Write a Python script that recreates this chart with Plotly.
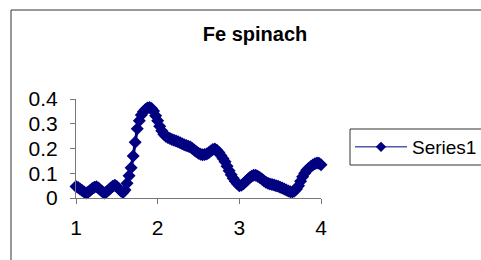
import plotly.graph_objects as go

x_vals = [1.000, 1.025, 1.050, 1.075, 1.100, 1.125, 1.150, 1.175, 1.200, 1.225,
          1.250, 1.275, 1.300, 1.325, 1.350, 1.375, 1.400, 1.425, 1.450, 1.475,
          1.500, 1.525, 1.550, 1.575, 1.600, 1.625, 1.650, 1.675, 1.700, 1.725,
          1.750, 1.775, 1.800, 1.825, 1.850, 1.875, 1.900, 1.925, 1.950, 1.975,
          2.000, 2.025, 2.050, 2.075, 2.100, 2.125, 2.150, 2.175, 2.200, 2.225,
          2.250, 2.275, 2.300, 2.325, 2.350, 2.375, 2.400, 2.425, 2.450, 2.475,
          2.500, 2.525, 2.550, 2.575, 2.600, 2.625, 2.650, 2.675, 2.700, 2.725,
          2.750, 2.775, 2.800, 2.825, 2.850, 2.875, 2.900, 2.925, 2.950, 2.975,
          3.000, 3.025, 3.050, 3.075, 3.100, 3.125, 3.150, 3.175, 3.200, 3.225,
          3.250, 3.275, 3.300, 3.325, 3.350, 3.375, 3.400, 3.425, 3.450, 3.475,
          3.500, 3.525, 3.550, 3.575, 3.600, 3.625, 3.650, 3.675, 3.700, 3.725,
          3.750, 3.775, 3.800, 3.825, 3.850, 3.875, 3.900, 3.925, 3.950, 3.975,
          4.000]

series1 = [0.046, 0.042, 0.036, 0.030, 0.024, 0.020, 0.024, 0.031, 0.038, 0.043,
           0.045, 0.040, 0.032, 0.025, 0.020, 0.025, 0.032, 0.040, 0.047, 0.052,
           0.046, 0.037, 0.028, 0.022, 0.032, 0.060, 0.090, 0.122, 0.170, 0.225,
           0.280, 0.312, 0.335, 0.348, 0.358, 0.364, 0.366, 0.362, 0.352, 0.332,
           0.312, 0.290, 0.272, 0.258, 0.250, 0.244, 0.240, 0.236, 0.233, 0.230,
           0.227, 0.223, 0.219, 0.215, 0.212, 0.209, 0.206, 0.200, 0.193, 0.187,
           0.181, 0.177, 0.175, 0.176, 0.178, 0.183, 0.190, 0.196, 0.198, 0.193,
           0.184, 0.172, 0.160, 0.146, 0.128, 0.110, 0.094, 0.080, 0.068, 0.058,
           0.050, 0.052, 0.058, 0.066, 0.074, 0.082, 0.088, 0.092, 0.092, 0.088,
           0.083, 0.077, 0.070, 0.064, 0.060, 0.057, 0.055, 0.053, 0.050, 0.047,
           0.043, 0.040, 0.036, 0.032, 0.028, 0.025, 0.024, 0.028, 0.036, 0.050,
           0.068, 0.086, 0.100, 0.112, 0.120, 0.127, 0.133, 0.138, 0.141, 0.140,
           0.134]

x_ticks = [1, 2, 3, 4]
y_ticks = [0, 0.1, 0.2, 0.3, 0.4]
y_tick_text = ["0", "0.1", "0.2", "0.3", "0.4"]

W, H = 481, 260
L, R, T, B = 76, 160, 99, 62
pw, ph = W - L - R, H - T - B

def px_x(p):
    return (p - L) / pw

def px_y(p):
    return (H - B - p) / ph

NAVY = "#000080"
FONT = "Arial, Liberation Sans, sans-serif"

fig = go.Figure()
fig.add_trace(go.Scatter(
    x=x_vals, y=series1, mode="lines+markers", name="Series1", showlegend=False,
    line=dict(color=NAVY, width=3),
    marker=dict(symbol="diamond", size=10, color=NAVY, line=dict(width=0)),
))
# legend entry (thin line + diamond, like the reference's key)
fig.add_trace(go.Scatter(
    x=[None], y=[None], mode="lines+markers", name="Series1", showlegend=True,
    line=dict(color=NAVY, width=1),
    marker=dict(symbol="diamond", size=8, color=NAVY, line=dict(width=0)),
))

fig.update_layout(
    width=W, height=H,
    margin=dict(l=L, r=R, t=T, b=B, pad=0, autoexpand=False),
    paper_bgcolor="white", plot_bgcolor="white",
    font=dict(family=FONT, size=20, color="black"),
    title=dict(text="<b>Fe spinach</b>", x=px_x(255), xref="paper", xanchor="center",
               y=1 - 34 / H, yref="container", yanchor="middle",
               font=dict(family=FONT, size=20, color="black")),
    showlegend=True,
    legend=dict(x=px_x(350), y=px_y(147), xanchor="left", yanchor="middle",
                xref="paper", yref="paper",
                borderwidth=0, bgcolor="rgba(0,0,0,0)",
                font=dict(family=FONT, size=19, color="black"),
                itemwidth=52),
    xaxis=dict(range=[1, 4], tickvals=x_ticks, ticktext=[str(v) for v in x_ticks],
               showgrid=False, zeroline=False, showline=True, linecolor="#777777",
               linewidth=1, ticks="outside", ticklen=5, tickcolor="#777777",
               ticklabelstandoff=6, fixedrange=True,
               tickfont=dict(family=FONT, size=21, color="black")),
    yaxis=dict(range=[0, 0.4], tickvals=y_ticks, ticktext=y_tick_text,
               showgrid=False, zeroline=False, showline=True, linecolor="#777777",
               linewidth=1, ticks="outside", ticklen=5, tickcolor="#777777",
               ticklabelstandoff=8, fixedrange=True,
               tickfont=dict(family=FONT, size=21, color="black")),
    shapes=[
        dict(type="rect", xref="paper", yref="paper",
             x0=px_x(11), x1=px_x(W + 20), y0=px_y(H + 20), y1=px_y(10),
             line=dict(color="#333333", width=1), fillcolor="rgba(0,0,0,0)",
             layer="below"),
        dict(type="rect", xref="paper", yref="paper",
             x0=px_x(350), x1=px_x(W + 20), y0=px_y(165), y1=px_y(129),
             line=dict(color="#333333", width=1), fillcolor="white",
             layer="below"),
    ],
)

fig.update_traces(cliponaxis=False)

fig.write_html("out.html", config={"displayModeBar": False},
               post_script="document.body.style.margin='0';document.body.style.overflow='hidden';")
